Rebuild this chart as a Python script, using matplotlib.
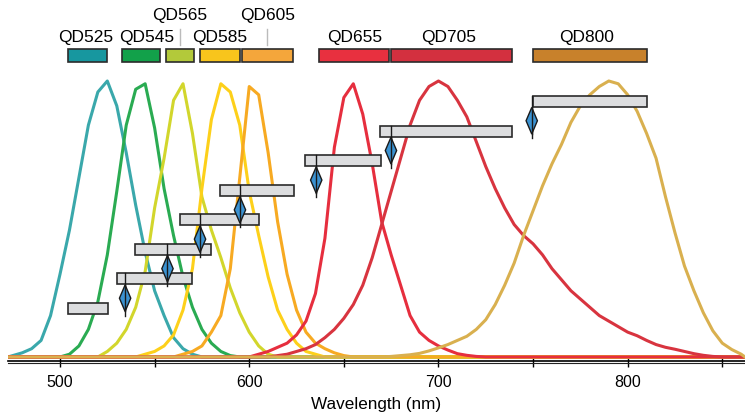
import numpy as np
import matplotlib.pyplot as plt
from matplotlib.patches import Rectangle, Polygon

plt.rcParams['font.family'] = ['Liberation Sans', 'DejaVu Sans']

names = ['QD525', 'QD545', 'QD565', 'QD585', 'QD605', 'QD655', 'QD705', 'QD800']
curve_colors = ['#3aa8ab', '#2aab52', '#d2d62c', '#fdd01a', '#f7aa22', '#e62e3e', '#d8343f', '#d9b04f']
bar_colors = ['#17979f', '#12a14a', '#b3c93a', '#f8c51c', '#f4a63b', '#e8303f', '#d3303f', '#c8812b']

# normalised emission spectra, one value every 5 nm from the start wavelength
spec_start = [475, 500, 520, 540, 560, 600, 610, 670]
qd525 = [0.005, 0.015, 0.03, 0.06, 0.15, 0.30, 0.46, 0.65, 0.84, 0.96, 1.0,
         0.91, 0.74, 0.55, 0.38, 0.24, 0.15, 0.07, 0.03, 0.01, 0.0]
qd545 = [0.0, 0.01, 0.04, 0.10, 0.20, 0.37, 0.60, 0.84, 0.97, 0.99,
         0.83, 0.61, 0.44, 0.29, 0.18, 0.10, 0.05, 0.02, 0.005, 0.0]
qd565 = [0.0, 0.02, 0.05, 0.10, 0.18, 0.31, 0.54, 0.72, 0.93, 0.99,
         0.81, 0.58, 0.46, 0.36, 0.25, 0.16, 0.09, 0.04, 0.01, 0.0]
qd585 = [0.0, 0.01, 0.02, 0.04, 0.08, 0.17, 0.32, 0.61, 0.86, 0.99, 0.96,
         0.84, 0.60, 0.44, 0.29, 0.17, 0.10, 0.05, 0.02, 0.01, 0.0]
qd605 = [0.0, 0.01, 0.02, 0.04, 0.09, 0.15, 0.32, 0.65, 0.98, 0.95,
         0.74, 0.49, 0.30, 0.17, 0.09, 0.05, 0.03, 0.015, 0.005, 0.0]
qd655 = [0.0, 0.01, 0.02, 0.035, 0.05, 0.08, 0.13, 0.23, 0.43, 0.76, 0.94, 0.99, 0.88,
         0.70, 0.49, 0.37, 0.26, 0.15, 0.09, 0.06, 0.04, 0.025, 0.012, 0.006, 0.002, 0.0]
qd705 = [0.0, 0.005, 0.01, 0.02, 0.03, 0.045, 0.07, 0.10, 0.14, 0.19, 0.26, 0.36,
         0.48, 0.60, 0.72, 0.84, 0.93, 0.98, 1.0, 0.98, 0.93, 0.87, 0.78, 0.69,
         0.61, 0.54, 0.48, 0.44, 0.41, 0.37, 0.32, 0.28, 0.24, 0.21, 0.18, 0.15,
         0.13, 0.11, 0.09, 0.077, 0.06, 0.045, 0.035, 0.028, 0.02, 0.012, 0.006, 0.002, 0.0]
qd800 = [0.0, 0.002, 0.005, 0.008, 0.013, 0.022, 0.033, 0.045, 0.06, 0.075,
         0.10, 0.135, 0.19, 0.26, 0.34, 0.44, 0.53, 0.62, 0.70, 0.77, 0.85,
         0.91, 0.95, 0.98, 1.0, 0.99, 0.95, 0.89, 0.81, 0.72, 0.58, 0.45,
         0.33, 0.24, 0.16, 0.095, 0.05, 0.027, 0.01]
spectra = [qd525, qd545, qd565, qd585, qd605, qd655, qd705, qd800]

# emission filter bands (coloured bars on top)
band_lo = [504, 533, 556, 574, 596, 637, 675, 750]
band_hi = [525, 553, 571, 595, 623, 674, 739, 810]
upper_label = [False, False, True, False, True, False, False, False]
label_shift = [-0.8, 2.8, 0, 0, 0, 0, -1.5, -1.5]

# grey boxes and excitation lines (diamonds)
box_lo = [504.4, 529.9, 539.6, 563.3, 584.4, 629.7, 668.9, 750.2]
box_hi = [525.2, 569.5, 580.0, 605.1, 623.4, 669.8, 739.1, 810.0]
box_y = [0.175, 0.283, 0.390, 0.497, 0.603, 0.711, 0.818, 0.926]
laser = [None, 534.4, 556.8, 574.0, 595.1, 635.4, 674.9, 749.3]

x_min, x_max = 472.5, 862
y_min, y_max = -0.0134, 1.2935

fig = plt.figure(figsize=(7.45, 4.16), dpi=100)
ax = fig.add_axes([0.0107, 0.133, 0.9893, 0.867])

for start, vals, col in zip(spec_start, spectra, curve_colors):
    wl = start + 5 * np.arange(len(vals))
    xs = np.r_[x_min, wl, x_max]
    ys = np.r_[0, vals, 0]
    ax.plot(xs, ys, color=col, lw=2.2, solid_joinstyle='round', zorder=2)

# grey boxes with diamonds
bh = 0.04
for lo, hi, yc, lz in zip(box_lo, box_hi, box_y, laser):
    ax.add_patch(Rectangle((lo, yc - bh / 2), hi - lo, bh, facecolor='#dcdddf',
                           edgecolor='#2b2b2b', lw=1.2, zorder=4))
    if lz is None:
        continue
    dc = yc - 0.07
    ax.plot([lz, lz], [yc + bh / 2, dc - 0.063], color='#1a1a1a', lw=1.0, zorder=5)
    ax.add_patch(Polygon([(lz, dc + 0.048), (lz + 3.0, dc), (lz, dc - 0.048), (lz - 3.0, dc)],
                         closed=True, facecolor='#3b92d1', edgecolor='#1a1a1a', lw=1.0, zorder=5))
    ax.plot([lz, lz], [dc + 0.048, dc - 0.048], color='#1a1a1a', lw=1.0, zorder=6)

# coloured filter bars and labels
for name, lo, hi, col, up, sh in zip(names, band_lo, band_hi, bar_colors, upper_label, label_shift):
    ax.add_patch(Rectangle((lo, 1.070), hi - lo, 0.045, facecolor=col,
                           edgecolor='#2b2b2b', lw=1.2, clip_on=False, zorder=4))
    cx = (lo + hi) / 2
    if up:
        ax.plot([cx, cx], [1.13, 1.19], color='#bbbbbb', lw=1.0, clip_on=False)
        ax.text(cx + sh, 1.236, name, ha='center', va='center', fontsize=12.5)
    else:
        ax.text(cx + sh, 1.156, name, ha='center', va='center', fontsize=12.5)

ax.set_xlim(x_min, x_max)
ax.set_ylim(y_min, y_max)
for s in ['left', 'right', 'top']:
    ax.spines[s].set_visible(False)
ax.spines['bottom'].set_linewidth(1.2)
ax.axhline(y_min - 0.0094, color='#222222', lw=0.8, clip_on=False)
ax.set_yticks([])
ax.set_xticks([500, 600, 700, 800])
ax.set_xticks([550, 650, 750, 850], minor=True)
ax.tick_params(axis='x', which='both', direction='inout', length=8.3, width=1.0,
               labelsize=11.5, pad=6)
ax.set_xlabel('Wavelength (nm)', fontsize=12.3, labelpad=5)

plt.savefig('out.png', dpi=100)
